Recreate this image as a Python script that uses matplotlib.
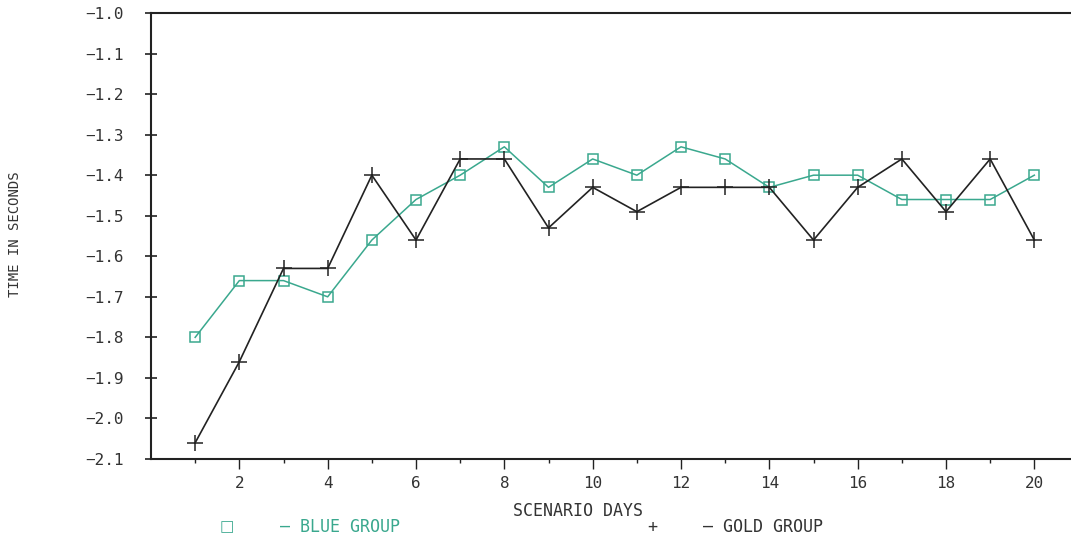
import matplotlib
matplotlib.use("Agg")
import matplotlib.pyplot as plt
import numpy as np

days = list(range(1, 21))
blue_group = [-1.80, -1.66, -1.66, -1.70, -1.56, -1.46, -1.40, -1.33, -1.43, -1.36,
              -1.40, -1.33, -1.36, -1.43, -1.40, -1.40, -1.46, -1.46, -1.46, -1.40]
gold_group = [-2.06, -1.86, -1.63, -1.63, -1.40, -1.56, -1.36, -1.36, -1.53, -1.43,
              -1.49, -1.43, -1.43, -1.43, -1.56, -1.43, -1.36, -1.49, -1.36, -1.56]
y_ticks = [-2.1, -2.0, -1.9, -1.8, -1.7, -1.6, -1.5, -1.4, -1.3, -1.2, -1.1, -1.0]
x_major = [2, 4, 6, 8, 10, 12, 14, 16, 18, 20]
x_minor = [1, 3, 5, 7, 9, 11, 13, 15, 17, 19]

TEAL = "#3aa88e"
INK = "#333333"
FONT = "DejaVu Sans Mono"

fig = plt.figure(figsize=(10.71, 5.42), dpi=100)
ax = fig.add_axes([151 / 1071, 1 - 459 / 542, 1 - 151 / 1071, (459 - 13) / 542])

ax.plot(days, blue_group, color=TEAL, lw=1.1, marker="s", markersize=7,
        markerfacecolor="none", markeredgecolor=TEAL, markeredgewidth=1.1)
ax.plot(days, gold_group, color="#222222", lw=1.2, marker="+", markersize=11,
        markeredgewidth=1.1)

ax.set_xlim(0, 20.83)
ax.set_ylim(-2.1, -1.0)

ax.set_yticks(y_ticks)
ax.set_yticklabels([f"\u2212{abs(v):.1f}" for v in y_ticks], fontfamily=FONT,
                   fontsize=11.5, color=INK)
ax.set_xticks(x_major)
ax.set_xticklabels([str(v) for v in x_major], fontfamily=FONT, fontsize=11.5, color=INK)
ax.set_xticks(x_minor, minor=True)

ax.tick_params(axis="y", direction="inout", length=9, width=1.2, pad=15, colors="#222222",
               labelcolor=INK)
ax.tick_params(axis="x", which="major", direction="out", length=7, width=1.0, pad=5,
               colors="#222222", labelcolor=INK)
ax.tick_params(axis="x", which="minor", direction="out", length=3, width=1.0,
               colors="#222222")

for side in ["left", "bottom", "top"]:
    ax.spines[side].set_linewidth(1.5)
    ax.spines[side].set_color("#222222")
ax.spines["right"].set_visible(False)

fig.text(578 / 1071, 1 - 511 / 542, "SCENARIO DAYS", ha="center", va="center",
         fontfamily=FONT, fontsize=12, color=INK)
fig.text(15 / 1071, 1 - 234 / 542, "TIME IN SECONDS", ha="center", va="center",
         rotation=90, fontfamily=FONT, fontsize=10, color=INK)

fig.text(227 / 1071, 1 - 527 / 542, "\u25a1", ha="center", va="center",
         fontfamily="DejaVu Sans", fontsize=11, color=TEAL)
fig.text(280 / 1071, 1 - 527 / 542, "\u2014 BLUE GROUP", ha="left", va="center",
         fontfamily=FONT, fontsize=12, color=TEAL)
fig.text(652 / 1071, 1 - 527 / 542, "+", ha="center", va="center",
         fontfamily=FONT, fontsize=12, color=INK)
fig.text(703 / 1071, 1 - 527 / 542, "\u2014 GOLD GROUP", ha="left", va="center",
         fontfamily=FONT, fontsize=12, color=INK)

fig.savefig("out.png", dpi=100)
